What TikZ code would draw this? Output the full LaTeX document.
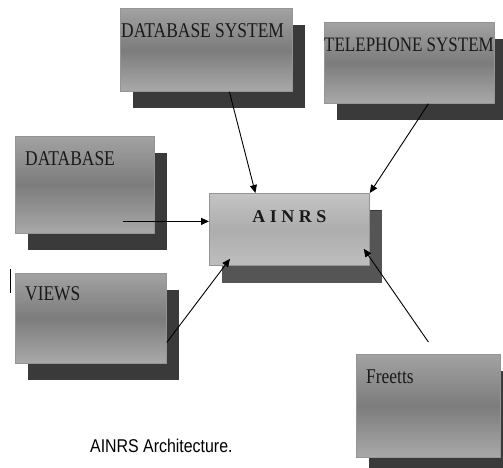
\documentclass[tikz,border=0pt]{standalone}
\usepackage{fontspec}
\usepackage{tikz}
\usetikzlibrary{arrows.meta, positioning, shadows}

\newfontfamily\boxfont[FakeStretch=0.83]{Liberation Serif}
\newfontfamily\ainrsfont[LetterSpace=25]{Liberation Serif}
\newfontfamily\capfont[FakeStretch=0.86]{Liberation Sans}

\definecolor{boxtop}{HTML}{A2A2A2}
\definecolor{boxmid}{HTML}{7C7C7C}
\definecolor{boxbot}{HTML}{A9A9A9}
\definecolor{boxedge}{HTML}{959595}
\definecolor{shadowdark}{HTML}{3A3A3A}
\definecolor{maintop}{HTML}{C4C4C4}
\definecolor{mainmid}{HTML}{ADADAD}
\definecolor{mainbot}{HTML}{BEBEBE}
\definecolor{shadowmain}{HTML}{555555}

\begin{document}
\begin{tikzpicture}[
    x=1pt, y=-1pt,
    box/.style={draw=boxedge, line width=0.8pt, inner sep=0pt, anchor=north west,
        top color=boxtop, bottom color=boxbot, middle color=boxmid,
        drop shadow={shadow xshift=13pt, shadow yshift=-17pt, fill=shadowdark, opacity=1}},
    mainbox/.style={box, top color=maintop, bottom color=mainbot, middle color=mainmid,
        drop shadow={shadow xshift=13pt, shadow yshift=-18pt, fill=shadowmain, opacity=1}},
    boxtext/.style={font=\boxfont\fontsize{21}{24}\selectfont, anchor=base west, inner sep=0pt, text=black!90},
    conn/.style={-{Triangle[length=8pt, width=7pt]}, line width=0.9pt}
]
\useasboundingbox (0,0) rectangle (503,467);

% Outer systems
\node[box, minimum width=172pt, minimum height=83pt] (dbsys) at (120,8) {};
\node[boxtext] (dbsys-t) at ([xshift=1pt, yshift=-29pt]dbsys.north west) {DATABASE SYSTEM};

\node[box, minimum width=170pt, minimum height=81pt] (tel) at (324,22) {};
\node[boxtext, font=\boxfont\fontsize{20.5}{24}\selectfont] (tel-t) at ([yshift=-29pt]tel.north west) {TELEPHONE SYSTEM};

\node[box, minimum width=139pt, minimum height=97pt] (db) at (15,136) {};
\node[boxtext] (db-t) at ([xshift=10pt, yshift=-29pt]db.north west) {DATABASE};

\node[box, minimum width=151pt, minimum height=90pt] (views) at (15,273) {};
\node[boxtext] (views-t) at ([xshift=10pt, yshift=-27pt]views.north west) {VIEWS};

\node[box, minimum width=144pt, minimum height=103pt] (freetts) at (356,354) {};
\node[boxtext] (freetts-t) at ([xshift=10pt, yshift=-29pt]freetts.north west) {Freetts};

% Central system
\node[mainbox, minimum width=160pt, minimum height=72pt] (ainrs) at (209,193) {};
\node[font=\ainrsfont\bfseries\fontsize{18}{21}\selectfont, anchor=base, inner sep=0pt, text=black!90]
    (ainrs-t) at ([yshift=-29pt]ainrs.north) {AINRS};

% Connectors
\draw[conn] ([xshift=23pt]dbsys.south) -- ([xshift=-34pt]ainrs.north);
\draw[conn] ([xshift=19pt]tel.south) -- (ainrs.north east);
\draw[conn, line width=1.2pt] ([xshift=-32pt, yshift=-36.5pt]db.east) -- ([yshift=8pt]ainrs.west);
\draw[conn] ([yshift=-24pt]views.east) -- ([xshift=21pt, yshift=7pt]ainrs.south west);
\draw[conn] ([yshift=12pt]freetts.north) -- ([xshift=-6pt, yshift=17pt]ainrs.south east);

% Stray mark and caption
\draw[line width=1pt] (10,269) -- (10,293);
\node[font=\capfont\fontsize{18.5}{21}\selectfont, anchor=base west, inner sep=0pt] (caption) at (90,452) {AINRS Architecture.};
\end{tikzpicture}
\end{document}
